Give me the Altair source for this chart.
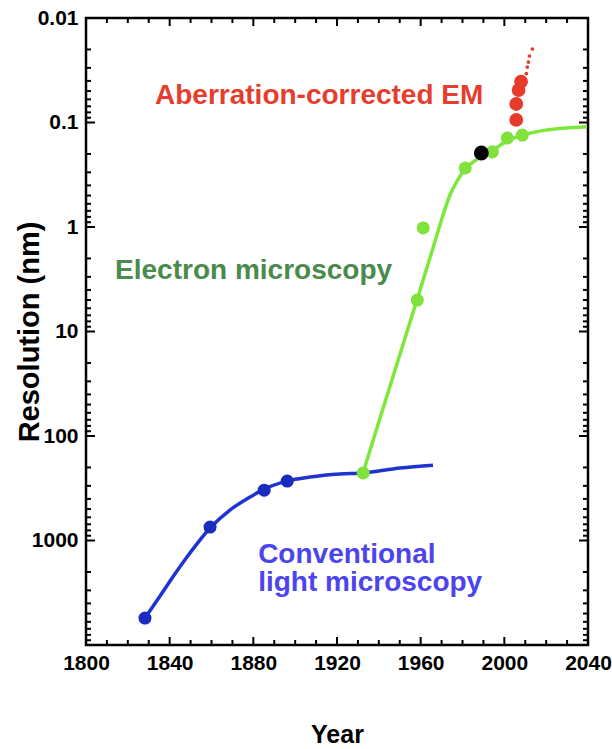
import altair as alt
import pandas as pd

# ---------------- data ----------------
# conventional light microscopy (blue): fitted curve and measured points
light_curve_year = [1828.2, 1835.4, 1842.5, 1849.7, 1859.3, 1868.8, 1878.4, 1885.1, 1896.1,
                    1907.1, 1921.4, 1932.4, 1950.1, 1965.9]
light_curve_res = [5520, 3397, 2094, 1318, 759, 511, 384, 322, 270, 247, 231, 226, 202, 190]
light_pts_year = [1828.2, 1859.3, 1885.2, 1896.2]
light_pts_res = [5520, 743, 330, 270]

# electron microscopy (green): fitted curve and measured points
em_curve_year = [1932.4, 1958.2, 1965.9, 1970.7, 1974.0, 1977.4, 1981.2, 1987.4, 1994.1,
                 2001.3, 2008.5, 2017.0, 2039.5]
em_curve_res = [226, 5.0, 1.589, 0.767, 0.494, 0.363, 0.279, 0.223, 0.187, 0.150, 0.132,
                0.121, 0.110]
em_pts_year = [1932.5, 1958.4, 1961.2, 1981.3, 1994.3, 2001.4, 2008.6]
em_pts_res = [226, 5.0, 1.02, 0.272, 0.191, 0.141, 0.132]

# black point
black_year = [1989.0]
black_res = [0.196]

# aberration-corrected EM (red)
ac_year = [2005.7, 2005.7, 2006.8, 2008.0]
ac_res = [0.0946, 0.0665, 0.0489, 0.0407]
ac_trend_year = [2010.5, 2011.0, 2011.5, 2012.0, 2013.4]
ac_trend_res = [0.034, 0.0295, 0.0264, 0.0231, 0.0198]

# annotations
label_text = ["Aberration-corrected EM", "Electron microscopy", "Conventional", "light microscopy"]
label_year = [1833, 1813.9, 1882.3, 1882.3]
label_res = [0.0665, 3.15, 1641, 3040]
label_color = ["#e63e2e", "#4a8a4c", "#4c45ee", "#4c45ee"]

# axis ticks
x_labels = [1800, 1840, 1880, 1920, 1960, 2000, 2040]
x_minor = [1810, 1820, 1830, 1850, 1860, 1870, 1890, 1900, 1910, 1930, 1940, 1950,
           1970, 1980, 1990, 2010, 2020, 2030]
y_labels = [0.01, 0.1, 1, 10, 100, 1000]
y_major = [0.01, 0.1, 1, 10, 100, 1000, 10000]
y_minor = [k * d for d in [0.01, 0.1, 1, 10, 100, 1000] for k in range(2, 10)]

# ---------------- chart ----------------
W, H = 502, 627
FONT = "Liberation Sans"
X_MIN, X_MAX = 1800, 2040
Y_MIN, Y_MAX = 0.01, 10000

xs = alt.Scale(domain=[X_MIN, X_MAX], nice=False, zero=False)
ys = alt.Scale(type="log", domain=[Y_MIN, Y_MAX], reverse=True, nice=False)

XA = alt.Axis(orient="bottom", values=x_labels, ticks=False, domain=False, grid=False,
              format="d", labelFont=FONT, labelFontSize=21, labelFontWeight="bold",
              labelColor="black", labelPadding=7, labelFlush=False, labelOverlap=False,
              title="Year", titleFont=FONT, titleFontSize=25, titleFontWeight="bold",
              titleColor="black", titleX=W / 2, titleY=97, titleBaseline="alphabetic",
              titleAlign="center")
YA = alt.Axis(orient="left", values=y_labels, ticks=False, domain=False, grid=False,
              format="~g", labelFont=FONT, labelFontSize=21, labelFontWeight="bold",
              labelColor="black", labelPadding=8, labelFlush=False, labelOverlap=False,
              title="Resolution (nm)", titleFont=FONT, titleFontSize=29,
              titleFontWeight="bold", titleColor="black", titleX=-48, titleY=H / 2,
              titleAngle=270, titleBaseline="alphabetic", titleAlign="center")


def X():
    return alt.X("year:Q", scale=xs, axis=XA, title="Year")


def Y():
    return alt.Y("res:Q", scale=ys, axis=YA, title="Resolution (nm)")


light_curve = pd.DataFrame({"year": light_curve_year, "res": light_curve_res})
light_pts = pd.DataFrame({"year": light_pts_year, "res": light_pts_res})
em_curve = pd.DataFrame({"year": em_curve_year, "res": em_curve_res})
em_pts = pd.DataFrame({"year": em_pts_year, "res": em_pts_res})
black = pd.DataFrame({"year": black_year, "res": black_res})
ac = pd.DataFrame({"year": ac_year, "res": ac_res})
ac_trend = pd.DataFrame({"year": ac_trend_year, "res": ac_trend_res})
labels = pd.DataFrame({"text": label_text, "year": label_year, "res": label_res, "color": label_color})


# inward-pointing frame ticks: each tick sits on a frame edge (axis-domain end) and is
# shortened towards the inside with a pixel offset
def x_ticks(values, size):
    out = []
    for edge, off in [(Y_MAX, -size), (Y_MIN, size)]:
        df = pd.DataFrame({"year": values, "res": [edge] * len(values)})
        out.append(alt.Chart(df).mark_rule(color="black", strokeWidth=2, y2Offset=off).encode(
            x=X(), y=Y(), y2=alt.Y2("res:Q")))
    return out


def y_ticks(values, size):
    out = []
    for edge, off in [(X_MIN, size), (X_MAX, -size)]:
        df = pd.DataFrame({"res": values, "year": [edge] * len(values)})
        out.append(alt.Chart(df).mark_rule(color="black", strokeWidth=2, x2Offset=off).encode(
            y=Y(), x=X(), x2=alt.X2("year:Q")))
    return out


tick_layers = x_ticks(x_labels, 8) + x_ticks(x_minor, 5) + y_ticks(y_major, 9) + y_ticks(y_minor, 5)

l_blue_line = alt.Chart(light_curve).mark_line(color="#1f33d1", strokeWidth=3.5, interpolate="monotone").encode(
    x=X(), y=Y())
l_blue_pts = alt.Chart(light_pts).mark_circle(color="#1a2bbf", size=170, opacity=1).encode(
    x=X(), y=Y())
l_green_line = alt.Chart(em_curve).mark_line(color="#7de83b", strokeWidth=3.5, interpolate="monotone").encode(
    x=X(), y=Y())
l_green_pts = alt.Chart(em_pts).mark_circle(color="#80e23c", size=170, opacity=1).encode(
    x=X(), y=Y())
l_black = alt.Chart(black).mark_circle(color="black", size=220, opacity=1).encode(
    x=X(), y=Y())
l_red = alt.Chart(ac).mark_circle(color="#e63b2a", size=190, opacity=1).encode(
    x=X(), y=Y())
l_red_trend = alt.Chart(ac_trend).mark_circle(color="#e63b2a", size=14, opacity=1).encode(
    x=X(), y=Y())
l_text = alt.Chart(labels).mark_text(align="left", baseline="alphabetic", font=FONT,
                                     fontWeight="bold", fontSize=28).encode(
    x=X(), y=Y(),
    text="text:N",
    color=alt.Color("color:N", scale=None),
)

chart = alt.layer(
    l_blue_line, l_blue_pts, l_green_line, l_green_pts, l_black, l_red,
    l_red_trend, l_text, *tick_layers
).properties(
    width=W, height=H,
    padding={"left": 86, "top": 18, "right": 24, "bottom": 104},
    autosize=alt.AutoSizeParams(type="none"),
    background="white",
).configure_view(stroke="black", strokeWidth=2.5)

chart.save("out.html", embed_options={"renderer": "svg", "actions": False})
